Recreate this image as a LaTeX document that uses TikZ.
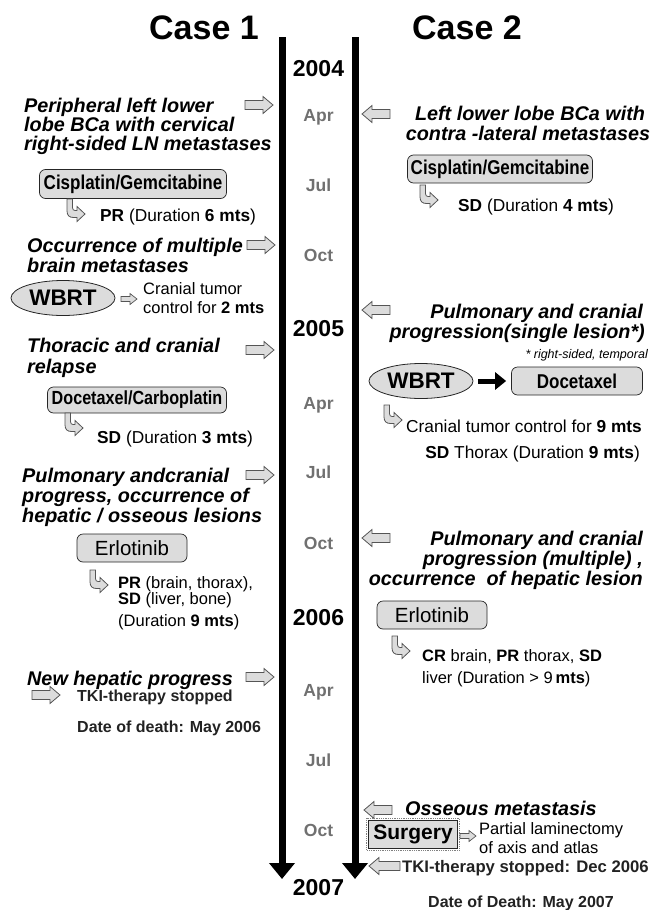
\documentclass[tikz,border=0pt]{standalone}
\usepackage{fontspec}
\setmainfont{Liberation Sans}
\newfontfamily\narrowfont[FakeStretch=0.85]{Liberation Sans}
\usetikzlibrary{arrows.meta,shapes.geometric}
\definecolor{boxgray}{HTML}{DCDCDC}
\definecolor{edgegray}{HTML}{555555}
\definecolor{monthgray}{HTML}{707070}
\definecolor{darktext}{HTML}{222222}
\tikzset{
  evt/.style={font=\fontsize{19.8}{20}\selectfont\bfseries\itshape, inner sep=0pt},
  res/.style={font=\fontsize{16.5}{19}\selectfont, inner sep=0pt},
  resbig/.style={font=\fontsize{17.3}{19}\selectfont, inner sep=0pt},
  small/.style={font=\fontsize{12.5}{14}\selectfont\itshape, inner sep=0pt},
  stoptext/.style={font=\fontsize{16}{18}\selectfont\bfseries, text=darktext, inner sep=0pt},
  month/.style={font=\fontsize{17.5}{17.5}\selectfont\bfseries, text=monthgray, inner sep=0pt},
  yearlbl/.style={font=\fontsize{23}{23}\selectfont\bfseries, inner sep=0pt},
  casetitle/.style={font=\fontsize{34}{34}\selectfont\bfseries, inner sep=0pt},
  tbox/.style={draw=black!85, fill=boxgray, rounded corners=6pt, line width=0.7pt, inner sep=0pt},
  ellbox/.style={ellipse, draw=black!85, fill=boxgray, line width=0.8pt, inner sep=0pt,
     minimum width=104pt, minimum height=35pt, font=\fontsize{22.5}{22.5}\selectfont\bfseries},
  tline/.style={line width=7pt, -{Triangle[length=16pt,width=25pt]}},
  blk/.style={draw=edgegray, fill=boxgray, line width=0.8pt, line join=miter},
  pics/rblock/.style={code={\draw[blk] (0,-4.5) -- (18,-4.5) -- (18,-8.5) -- (28,0) -- (18,8.5) -- (18,4.5) -- (0,4.5) -- cycle;}},
  pics/lblock/.style={code={\draw[blk] (0,-4.5) -- (-18,-4.5) -- (-18,-8.5) -- (-28,0) -- (-18,8.5) -- (-18,4.5) -- (0,4.5) -- cycle;}},
  pics/lblocklong/.style={code={\draw[blk] (0,-4.5) -- (-21,-4.5) -- (-21,-8.5) -- (-31,0) -- (-21,8.5) -- (-21,4.5) -- (0,4.5) -- cycle;}},
  pics/smallarr/.style={code={\draw[blk, line width=0.7pt] (0,-2.5) -- (9,-2.5) -- (9,-5.5) -- (16,0) -- (9,5.5) -- (9,2.5) -- (0,2.5) -- cycle;}},
  pics/hook/.style={code={\draw[blk, line width=0.8pt] (0,0) -- (0,12) .. controls (0,16.5) and (2.5,18.5) .. (6.5,18.5) -- (10,18.5) -- (10,22.5) -- (18,15) -- (10,7.5) -- (10,11.5) -- (8,11.5) .. controls (6.5,11.5) and (5.5,10.5) .. (5.5,8.5) -- (5.5,0) -- cycle;}},
}
\begin{document}
\begin{tikzpicture}[x=1pt,y=-1pt]
\useasboundingbox (0,0) rectangle (658,910);
% titles
\node[casetitle] (case1) at (204,28) {Case 1};
\node[casetitle] (case2) at (467,28) {Case 2};
% timelines
\coordinate (l1top) at (282,37);
\coordinate (l1bot) at (282,879);
\coordinate (l2top) at (355,37);
\coordinate (l2bot) at (355,879);
\draw[tline] (l1top) -- (l1bot);
\draw[tline] (l2top) -- (l2bot);
% years and months
\node[yearlbl, anchor=base] (y2004) at (318.5,76) {2004};
\node[month, anchor=base] (m1) at (318.5,121) {Apr};
\node[month, anchor=base] (m2) at (318.5,191) {Jul};
\node[month, anchor=base] (m3) at (318.5,261) {Oct};
\node[yearlbl, anchor=base] (y2005) at (318.5,336) {2005};
\node[month, anchor=base] (m4) at (318.5,409) {Apr};
\node[month, anchor=base] (m5) at (318.5,478) {Jul};
\node[month, anchor=base] (m6) at (318.5,549) {Oct};
\node[yearlbl, anchor=base] (y2006) at (318.5,625) {2006};
\node[month, anchor=base] (m7) at (318.5,696) {Apr};
\node[month, anchor=base] (m8) at (318.5,766) {Jul};
\node[month, anchor=base] (m9) at (318.5,836) {Oct};
\node[yearlbl, anchor=base] (y2007) at (318.5,895) {2007};

% ---------------- Case 1 ----------------
\node[evt, anchor=base west] (a1a) at (24,112) {Peripheral left lower};
\node[evt, anchor=base west] (a1b) at (24,131) {lobe BCa with cervical};
\node[evt, anchor=base west] (a1c) at (24,150) {right-sided LN metastases};
\pic at (245,105) {rblock};
\node[tbox, minimum width=187pt, minimum height=29pt, font=\narrowfont\fontsize{20}{20}\selectfont\bfseries] (cis1) at (133,184) {Cisplatin/Gemcitabine};
\pic at (67,199) {hook};
\node[resbig, anchor=base west] (r1) at (100,221) {\textbf{PR} (Duration \textbf{6 mts})};

\node[evt, anchor=base west] (a2a) at (27,252) {Occurrence of multiple};
\node[evt, anchor=base west] (a2b) at (27,272) {brain metastases};
\pic at (247,245) {rblock};
\node[ellbox] (wbrt1) at (63,298) {WBRT};
\pic at (121,299) {smallarr};
\node[res, anchor=base west] (r2a) at (143,294) {Cranial tumor};
\node[res, anchor=base west] (r2b) at (143,313) {control for \textbf{2 mts}};

\node[evt, anchor=base west] (a3a) at (27,352) {Thoracic and cranial};
\node[evt, anchor=base west] (a3b) at (27,373) {relapse};
\pic at (246,350) {rblock};
\node[tbox, minimum width=179pt, minimum height=26pt, font=\narrowfont\fontsize{19}{19}\selectfont\bfseries] (doc1) at (137,400) {Docetaxel/Carboplatin};
\pic at (65,413) {hook};
\node[resbig, anchor=base west] (r3) at (97,443) {\textbf{SD} (Duration \textbf{3 mts})};

\node[evt, anchor=base west] (a4a) at (22,482) {Pulmonary andcranial};
\node[evt, anchor=base west] (a4b) at (22,502) {progress, occurrence of};
\node[evt, anchor=base west] (a4c) at (22,522) {hepatic / osseous lesions};
\pic at (246,475) {rblock};
\node[tbox, minimum width=110pt, minimum height=28pt, font=\fontsize{20.5}{20.5}\selectfont] (erl1) at (132,548) {Erlotinib};
\pic at (90,570) {hook};
\node[res, anchor=base west] (r4a) at (118,588) {\textbf{PR} (brain, thorax),};
\node[res, anchor=base west] (r4b) at (118,604) {\textbf{SD} (liver, bone)};
\node[res, anchor=base west] (r4c) at (118,626) {(Duration \textbf{9 mts})};

\node[evt, anchor=base west] (a5) at (27,685) {New hepatic progress};
\pic at (246,677) {rblock};
\pic at (32,695) {rblock};
\node[stoptext, anchor=base west] (s1a) at (77,701) {TKI-therapy stopped};
\node[stoptext, anchor=base west] (s1b) at (77,732) {Date of death: May 2006};

% ---------------- Case 2 ----------------
\node[evt, anchor=base] (b1a) at (530,120) {Left lower lobe BCa with};
\node[evt, anchor=base] (b1b) at (528,140) {contra -lateral metastases};
\pic at (390,114) {lblock};
\node[tbox, minimum width=185pt, minimum height=28pt, font=\narrowfont\fontsize{20}{20}\selectfont\bfseries] (cis2) at (500,169) {Cisplatin/Gemcitabine};
\pic at (420,185) {hook};
\node[resbig, anchor=base west] (q1) at (458,211) {\textbf{SD} (Duration \textbf{4 mts})};

\node[evt, anchor=base east] (b2a) at (643,318) {Pulmonary and cranial};
\node[evt, anchor=base east] (b2b) at (645,338) {progression(single lesion*)};
\node[small, anchor=base east] (b2c) at (648,358) {* right-sided, temporal};
\pic at (390,310) {lblock};
\node[ellbox] (wbrt2) at (421,381) {WBRT};
\node[tbox, minimum width=131pt, minimum height=28pt, font=\narrowfont\fontsize{20}{20}\selectfont\bfseries] (doc2) at (577,381) {Docetaxel};
\draw[line width=5pt, -{Triangle[length=11pt,width=17pt]}] ([xshift=5pt]wbrt2.east) -- ([xshift=-5pt]doc2.west);
\pic at (384,405) {hook};
\node[resbig, anchor=base east] (q2a) at (642,432) {Cranial tumor control for \textbf{9 mts}};
\node[resbig, anchor=base east] (q2b) at (640,458) {\textbf{SD} Thorax (Duration \textbf{9 mts})};

\node[evt, anchor=base east] (b3a) at (643,545) {Pulmonary and cranial};
\node[evt, anchor=base east] (b3b) at (643,565) {progression (multiple) ,};
\node[evt, anchor=base east] (b3c) at (643,585) {occurrence\ \ of hepatic lesion};
\pic at (390,538) {lblock};
\node[tbox, minimum width=110pt, minimum height=28pt, font=\fontsize{20.5}{20.5}\selectfont] (erl2) at (432,615) {Erlotinib};
\pic at (392,636) {hook};
\node[res, anchor=base west] (q3a) at (422,661) {\textbf{CR} brain, \textbf{PR} thorax, \textbf{SD}};
\node[res, anchor=base west] (q3b) at (422,683) {liver (Duration > 9\,\textbf{mts})};

\node[evt, anchor=base west] (b4) at (405,815) {Osseous metastasis};
\pic at (392,810) {lblock};
\node[draw=black!85, fill=boxgray, line width=0.8pt, inner sep=0pt, minimum width=89pt, minimum height=28pt, font=\fontsize{21}{21}\selectfont\bfseries] (surg) at (413,834) {Surgery};
\draw[densely dotted, gray, line width=0.8pt] ([shift={(-1.5pt,1.5pt)}]surg.north west) rectangle ([shift={(1.5pt,-1.5pt)}]surg.south east);
\pic at (460,836) {smallarr};
\node[res, anchor=base west] (q4a) at (479,834) {Partial laminectomy};
\node[res, anchor=base west] (q4b) at (479,853) {of axis and atlas};
\pic at (400,866) {lblocklong};
\node[stoptext, font=\fontsize{16.7}{18}\selectfont\bfseries, anchor=base west] (s2a) at (402,872) {TKI-therapy stopped: Dec 2006};
\node[stoptext, anchor=base west] (s2b) at (428,907) {Date of Death: May 2007};
\end{tikzpicture}
\end{document}
